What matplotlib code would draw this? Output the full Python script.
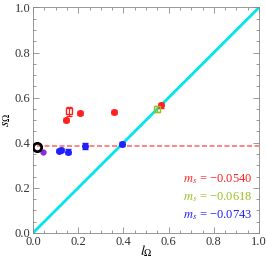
import matplotlib
matplotlib.use("Agg")
import matplotlib.pyplot as plt
import numpy as np
from matplotlib.ticker import MultipleLocator

plt.rcParams['font.family'] = ['Liberation Serif', 'DejaVu Serif']
plt.rcParams['mathtext.fontset'] = 'stix'

# data
red_x = [0.146, 0.209, 0.360, 0.566]
red_y = [0.500, 0.532, 0.537, 0.566]
red_err = [0.010, 0.008, 0.008, 0.010]
red_sq_x = [0.161]
red_sq_y = [0.539]
red_sq_err = [0.020]
green_x = [0.547]
green_y = [0.550]
green_err = [0.012]
blue_x = [0.117, 0.125, 0.156, 0.230, 0.395]
blue_y = [0.365, 0.367, 0.361, 0.386, 0.395]
blue_err = [0.008, 0.008, 0.010, 0.012, 0.010]
purple_x = [0.045]
purple_y = [0.361]
black_x = [0.016]
black_y = [0.383]
hline_y = 0.385
labels = ["$m_s$ = −0.0540", "$m_s$ = −0.0618", "$m_s$ = −0.0743"]
label_colors = ["#ff2020", "#99c020", "#2020ff"]

fig = plt.figure(figsize=(2.66, 2.65), dpi=100)
ax = fig.add_axes([0.124, 0.121, 0.850, 0.851])

ax.plot([0, 1], [0, 1], color='#00e5ee', lw=2, zorder=1)
ax.plot([black_x[0], 1], [hline_y, hline_y], color='#ff7070', lw=1.2, ls=(0, (3, 1.5)), zorder=1)

ax.errorbar(red_x, red_y, yerr=red_err, fmt='o', color='#ff2020', ms=4, capsize=2, elinewidth=0.8, zorder=3)
ax.errorbar(red_sq_x, red_sq_y, yerr=red_sq_err, fmt='s', mfc='none', color='#ff2020', ms=4, capsize=2, elinewidth=0.8, zorder=3)
ax.errorbar(green_x, green_y, yerr=green_err, fmt='s', mfc='none', color='#99c020', ms=5, capsize=2, elinewidth=0.8, zorder=3)
ax.errorbar(blue_x, blue_y, yerr=blue_err, fmt='o', color='#2020ff', ms=4, capsize=2, elinewidth=0.8, zorder=3)
ax.plot(purple_x, purple_y, 'o', color='#8a2be2', ms=3.5, zorder=3)
ax.plot(black_x, black_y, 'o', mfc='none', mec='black', mew=2, ms=6, zorder=4)

for i, (lab, c) in enumerate(zip(labels, label_colors)):
    ax.text(0.665, 0.24 - i * 0.08, lab, color=c, fontsize=9, va='center')

ax.set_xlim(0, 1)
ax.set_ylim(0, 1)
ax.xaxis.set_major_locator(MultipleLocator(0.2))
ax.yaxis.set_major_locator(MultipleLocator(0.2))
ax.xaxis.set_minor_locator(MultipleLocator(0.05))
ax.yaxis.set_minor_locator(MultipleLocator(0.05))
ax.tick_params(which='both', direction='in', top=True, right=True, colors='#888888', labelcolor='#333333', labelsize=9, width=0.6, pad=2)
ax.tick_params(which='major', length=4)
ax.tick_params(which='minor', length=2)
for s in ax.spines.values():
    s.set_color('#888888')
    s.set_linewidth(0.6)
ax.set_xlabel(r'$l_\Omega$', fontsize=10)
ax.set_ylabel(r'$s_\Omega$', fontsize=10, rotation=90)
ax.xaxis.set_label_coords(0.5, -0.045)
ax.yaxis.set_label_coords(-0.088, 0.5)

fig.savefig('out.png', dpi=100)
